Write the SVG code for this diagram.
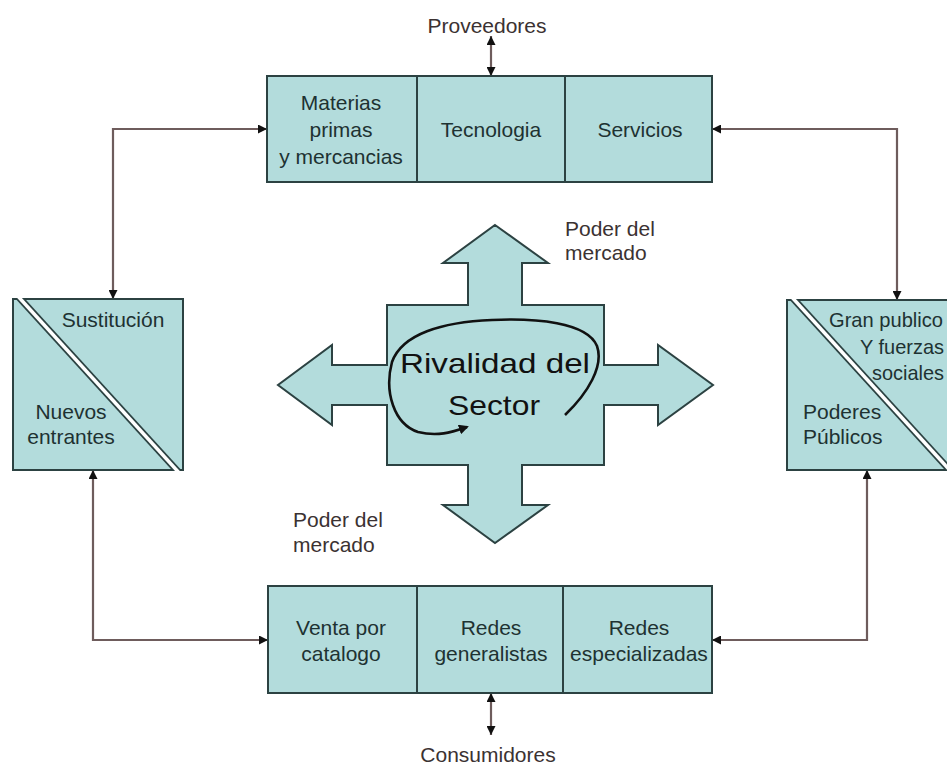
<svg xmlns="http://www.w3.org/2000/svg" width="947" height="765" viewBox="0 0 947 765">
<style>
.box{fill:#b3dcdc;stroke:#2c4242;stroke-width:2}
.t{font-family:"Liberation Sans",Arial,sans-serif;font-size:21px;fill:#1e3232;text-anchor:middle}
.o{font-family:"Liberation Sans",Arial,sans-serif;font-size:21px;fill:#3b3232}
.r{font-family:"Liberation Sans",Arial,sans-serif;font-size:21px;fill:#1e3232}
.c{fill:none;stroke:#6e5c5c;stroke-width:2.2}
.band{stroke:#2c4242;stroke-width:7}
.bandw{stroke:#ffffff;stroke-width:3.5}
</style>
<defs>
<marker id="ah" viewBox="0 0 8 8" refX="8" refY="4" markerWidth="9" markerHeight="9" markerUnits="userSpaceOnUse" orient="auto-start-reverse">
<path d="M0,0 L8,4 L0,8 z" fill="#111"/>
</marker>
<marker id="sw" viewBox="0 0 10 10" refX="8" refY="5" markerWidth="10" markerHeight="10" markerUnits="userSpaceOnUse" orient="auto">
<path d="M0,0 L10,5 L0,10 z" fill="#111"/>
</marker>
<clipPath id="clipL"><rect x="12" y="298" width="172" height="173"/></clipPath>
<clipPath id="clipR"><rect x="786" y="299" width="172" height="172"/></clipPath>
</defs>
<rect width="947" height="765" fill="#ffffff"/>

<g id="connectors">
<path class="c" d="M267,129 H113 V299" marker-start="url(#ah)" marker-end="url(#ah)"/>
<path class="c" d="M712,129 H897 V300" marker-start="url(#ah)" marker-end="url(#ah)"/>
<path class="c" d="M268,640 H93 V470" marker-start="url(#ah)" marker-end="url(#ah)"/>
<path class="c" d="M712,640 H867 V470" marker-start="url(#ah)" marker-end="url(#ah)"/>
<path class="c" d="M491,36 V76" stroke="#222" marker-start="url(#ah)" marker-end="url(#ah)"/>
<path class="c" d="M491,693 V735" stroke="#222" marker-start="url(#ah)" marker-end="url(#ah)"/>
</g>

<g id="proveedores"><text class="o" x="487" y="33" text-anchor="middle">Proveedores</text></g>
<g id="consumidores"><text class="o" x="488" y="762" text-anchor="middle">Consumidores</text></g>

<g id="top-box">
<rect class="box" x="267" y="76" width="445" height="106"/>
<line x1="417" y1="76" x2="417" y2="182" stroke="#2c4242" stroke-width="2"/>
<line x1="565" y1="76" x2="565" y2="182" stroke="#2c4242" stroke-width="2"/>
<text class="t" x="341" y="110">Materias</text>
<text class="t" x="341" y="137">primas</text>
<text class="t" x="341" y="164">y mercancias</text>
<text class="t" x="491" y="137">Tecnologia</text>
<text class="t" x="640" y="137">Servicios</text>
</g>

<g id="bottom-box">
<rect class="box" x="268" y="586" width="444" height="107"/>
<line x1="417" y1="586" x2="417" y2="693" stroke="#2c4242" stroke-width="2"/>
<line x1="563" y1="586" x2="563" y2="693" stroke="#2c4242" stroke-width="2"/>
<text class="t" x="341" y="635">Venta por</text>
<text class="t" x="341" y="661">catalogo</text>
<text class="t" x="491" y="635">Redes</text>
<text class="t" x="491" y="661">generalistas</text>
<text class="t" x="639" y="635">Redes</text>
<text class="t" x="639" y="661">especializadas</text>
</g>

<g id="left-box">
<rect class="box" x="13" y="299" width="170" height="171"/>
<g clip-path="url(#clipL)">
<line class="band" x1="15" y1="293" x2="182" y2="476"/>
<line class="bandw" x1="15" y1="293" x2="182" y2="476"/>
</g>
<text class="t" x="113" y="327">Sustitución</text>
<text class="t" x="71" y="419">Nuevos</text>
<text class="t" x="71" y="444">entrantes</text>
</g>

<g id="right-box">
<rect class="box" x="787" y="300" width="170" height="170"/>
<g clip-path="url(#clipR)">
<line class="band" x1="789" y1="294" x2="956" y2="477"/>
<line class="bandw" x1="789" y1="294" x2="956" y2="477"/>
</g>
<text class="r" x="829" y="327" textLength="114" lengthAdjust="spacingAndGlyphs">Gran publico</text>
<text class="r" x="860" y="354" textLength="84" lengthAdjust="spacingAndGlyphs">Y fuerzas</text>
<text class="r" x="872" y="380" textLength="72" lengthAdjust="spacingAndGlyphs">sociales</text>
<text class="r" x="803" y="419">Poderes</text>
<text class="r" x="803" y="444">Públicos</text>
</g>

<g id="rivalidad">
<polygon class="box" points="495,225 548,263 522,263 522,305 604,305 604,365 658,365 658,345 713,385 658,425 658,405 604,405 604,465 522,465 522,505 548,505 495,543 443,505 468,505 468,465 387,465 387,405 332,405 332,425 278,385 332,345 332,365 387,365 387,305 468,305 468,263 443,263"/>
<text class="t" x="495" y="373" style="font-size:28px;fill:#111" textLength="190" lengthAdjust="spacingAndGlyphs">Rivalidad del</text>
<text class="t" x="494" y="415" style="font-size:28px;fill:#111" textLength="92" lengthAdjust="spacingAndGlyphs">Sector</text>
<path d="M565,415 C588,393 604,366 597,346 C587,322 535,318 492,320 C442,322 402,334 392,362 C384,392 394,424 418,432 C438,437 452,432 467,427" fill="none" stroke="#111" stroke-width="2.6" marker-end="url(#sw)"/>
</g>

<g id="poder-top">
<text class="o" x="565" y="236">Poder del</text>
<text class="o" x="565" y="260">mercado</text>
</g>
<g id="poder-bottom">
<text class="o" x="293" y="527">Poder del</text>
<text class="o" x="293" y="552">mercado</text>
</g>
</svg>
